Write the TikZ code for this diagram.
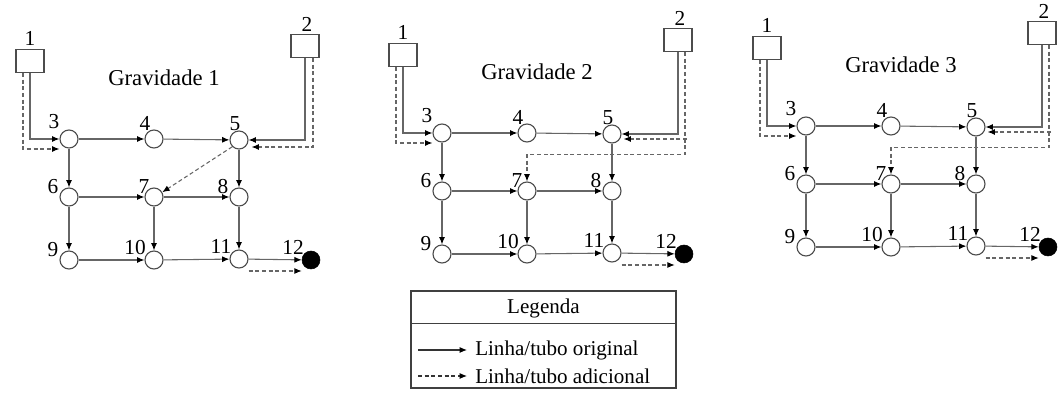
\documentclass[tikz,border=0pt]{standalone}
\usepackage{fontspec}
\setmainfont{Liberation Serif}
\usetikzlibrary{arrows.meta,calc}

\tikzset{
  junc/.style={circle,draw=black!70,line width=0.85pt,minimum size=13.5pt,inner sep=0pt,fill=white},
  sink/.style={circle,fill=black,draw=black,minimum size=13.5pt,inner sep=0pt},
  tank/.style={rectangle,draw=black!70,line width=0.85pt,minimum width=21pt,minimum height=17pt,inner sep=0pt,fill=white},
  lab/.style={font=\fontsize{16pt}{16pt}\selectfont,inner sep=0pt},
  ttl/.style={font=\fontsize{17pt}{17pt}\selectfont,inner sep=0pt},
  legtxt/.style={font=\fontsize{15.8pt}{15.8pt}\selectfont,inner sep=0pt},
  pipe/.style={draw=black!60,line width=0.8pt,-{Latex[color=black,length=5.5pt,width=4.5pt]}},
  extra/.style={pipe,dash pattern=on 3pt off 2pt},
}

% one network: #1 = position of junction 3, #2 = name prefix, #3 = gravity case
\newcommand\network[3]{%
  \begin{scope}[shift={#1}]
    \node[junc] (#2n3)  at (0,0)    {};
    \node[junc] (#2n4)  at (85,0)   {};
    \node[junc] (#2n5)  at (170,1)  {};
    \node[junc] (#2n6)  at (0,58)   {};
    \node[junc] (#2n7)  at (85,58)  {};
    \node[junc] (#2n8)  at (170,58) {};
    \node[junc] (#2n9)  at (0,121)  {};
    \node[junc] (#2n10) at (85,121) {};
    \node[junc] (#2n11) at (170,120){};
    \node[sink] (#2n12) at (242,121){};
    \node[tank] (#2b1)  at (-39,-78){};
    \node[tank] (#2b2)  at (236,-93){};
    \node[lab] (#2l1)  at (-39,-101) {1};
    \node[lab] (#2l2)  at (238,-115) {2};
    \node[lab] (#2l3)  at (-15,-17)  {3};
    \node[lab] (#2l4)  at (76,-16)   {4};
    \node[lab] (#2l5)  at (166,-15)  {5};
    \node[lab] (#2l6)  at (-16,48)   {6};
    \node[lab] (#2l7)  at (75,48)    {7};
    \node[lab] (#2l8)  at (154,48)   {8};
    \node[lab] (#2l9)  at (-16,111)  {9};
    \node[lab] (#2l10) at (66,109)   {10};
    \node[lab] (#2l11) at (152,107)  {11};
    \node[lab] (#2l12) at (224,108)  {12};
    \node[ttl] (#2t)   at (95,-61)   {Gravidade #3};
  \end{scope}
  % original pipes
  \draw[pipe] (#2b1.south) |- (#2n3.west);
  \draw[pipe] (#2b2.south) |- (#2n5.east);
  \draw[pipe] (#2n3) -- (#2n4);
  \draw[pipe] (#2n4) -- (#2n5);
  \draw[pipe] (#2n3) -- (#2n6);
  \draw[pipe] (#2n5) -- (#2n8);
  \draw[pipe] (#2n6) -- (#2n7);
  \draw[pipe] (#2n7) -- (#2n8);
  \draw[pipe] (#2n6) -- (#2n9);
  \draw[pipe] (#2n7) -- (#2n10);
  \draw[pipe] (#2n8) -- (#2n11);
  \draw[pipe] (#2n9) -- (#2n10);
  \draw[pipe] (#2n10) -- (#2n11);
  \draw[pipe] (#2n11) -- (#2n12);
  % additional pipes common to all cases
  \draw[extra] ($(#2b1.south)+(-7,0)$) |- ($(#2n3.west)+(0,10)$);
  \draw[extra] ($(#2n11.east)+(0,12)$) -- ($(#2n12.west)+(0,11)$);
}

\begin{document}
\begin{tikzpicture}[x=0.75pt,y=-0.75pt]
  \useasboundingbox (0,0) rectangle (1061,398);

  % Gravidade 1
  \network{(69,139)}{a}{1}
  \draw[extra] ($(ab2.south)+(8,0)$) |- ($(an5.east)+(3,7)$);
  \draw[extra] (an5.south west) -- (an7.30);

  % Gravidade 2
  \network{(442,133)}{b}{2}
  \draw[extra] ($(bb2.south)+(7,0)$) |- ($(bn7.north)+(0,-27)$) -- (bn7.north);
  \draw[extra] ($(bb2.south |- bn5.east)+(9,5)$) -- ($(bn5.east)+(2,5)$);

  % Gravidade 3
  \network{(806,126)}{c}{3}
  \draw[extra] ($(cb2.south)+(7,0)$) |- ($(cn7.north)+(0,-27)$) -- (cn7.north);
  \draw[extra] ($(cb2.south |- cn5.east)+(9,5)$) -- ($(cn5.east)+(2,5)$);

  % legend
  \node[draw=black!75,line width=0.85pt,minimum width=198.75pt,minimum height=72.75pt,inner sep=0pt]
    (legend) at (543.5,339.5) {};
  \draw[draw=black!75,line width=0.85pt] ($(legend.north west)+(0,33)$) -- ($(legend.north east)+(0,33)$);
  \node[legtxt] (legtitle) at (543.5,308) {Legenda};
  \coordinate (s0) at (418,350);
  \coordinate (s1) at (467,350);
  \coordinate (d0) at (418,376);
  \coordinate (d1) at (467,376);
  \draw[pipe,draw=black!80] (s0) -- (s1);
  \draw[extra,draw=black!80] (d0) -- (d1);
  \node[legtxt,anchor=west] (legorig) at (475,350) {Linha/tubo original};
  \node[legtxt,anchor=west] (legadd)  at (475,376) {Linha/tubo adicional};
\end{tikzpicture}
\end{document}
